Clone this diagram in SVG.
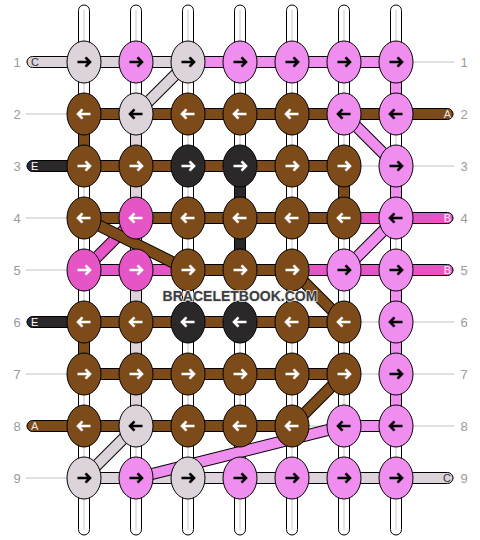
<svg xmlns="http://www.w3.org/2000/svg" xmlns:xlink="http://www.w3.org/1999/xlink" width="480" height="540" viewBox="0 0 480 540">
<style>
.num{font-family:"Liberation Sans",Arial,sans-serif;font-size:13px;fill:#9a9a9a;text-anchor:middle}
.lt{font-family:"Liberation Sans",Arial,sans-serif;font-size:11px}
.guide{stroke:#c4c4c4;stroke-width:1.2}
.warp{fill:#fff;stroke:#000;stroke-width:1}
.wl{stroke:#c8c8c8;stroke-width:1}
.seg{stroke:#000;stroke-width:1}
.L{fill:#ddd3da}.P{fill:#f08ef0}.B{fill:#7d4a19}.D{fill:#2b282a}.H{fill:#e655c6}
.dob{stroke:#000;stroke-width:12;stroke-linecap:butt}
.dL{stroke:#ddd3da;stroke-width:10}.dP{stroke:#f08ef0;stroke-width:10}.dB{stroke:#7d4a19;stroke-width:10}.dH{stroke:#e655c6;stroke-width:10}
.node ellipse{stroke:#000;stroke-width:1}
.aw{stroke:#fff}.ab{stroke:#000}
.wm{font-family:"Liberation Sans",Arial,sans-serif;font-size:14px;font-weight:bold;fill:#3c3c3c;stroke:#e8e8e8;stroke-width:1.5;paint-order:stroke;text-anchor:middle}
</style>
<defs>
<path id="ar" d="M-6.5,0 H6 M1.5,-4.6 L6,0 L1.5,4.6" fill="none" stroke-width="2.6"/>
<path id="al" d="M6.5,0 H-6 M-1.5,-4.6 L-6,0 L-1.5,4.6" fill="none" stroke-width="2.6"/>
</defs>

<g id="labels">
<g class="guide">
<line x1="26" y1="62" x2="454" y2="62"/><line x1="26" y1="114" x2="454" y2="114"/><line x1="26" y1="166" x2="454" y2="166"/>
<line x1="26" y1="218" x2="454" y2="218"/><line x1="26" y1="270" x2="454" y2="270"/><line x1="26" y1="322" x2="454" y2="322"/>
<line x1="26" y1="374" x2="454" y2="374"/><line x1="26" y1="426" x2="454" y2="426"/><line x1="26" y1="478" x2="454" y2="478"/>
</g>
<text class="num" x="17" y="67">1</text><text class="num" x="17" y="119">2</text><text class="num" x="17" y="171">3</text>
<text class="num" x="17" y="223">4</text><text class="num" x="17" y="275">5</text><text class="num" x="17" y="327">6</text>
<text class="num" x="17" y="379">7</text><text class="num" x="17" y="431">8</text><text class="num" x="17" y="483">9</text>
<text class="num" x="464" y="67">1</text><text class="num" x="464" y="119">2</text><text class="num" x="464" y="171">3</text>
<text class="num" x="464" y="223">4</text><text class="num" x="464" y="275">5</text><text class="num" x="464" y="327">6</text>
<text class="num" x="464" y="379">7</text><text class="num" x="464" y="431">8</text><text class="num" x="464" y="483">9</text>
</g>

<g id="connectors">
<!-- warp strands -->
<g>
<rect class="warp" x="78.5" y="5" width="11" height="530" rx="5.5"/><line class="wl" x1="84" y1="10" x2="84" y2="530"/>
<rect class="warp" x="130.5" y="5" width="11" height="530" rx="5.5"/><line class="wl" x1="136" y1="10" x2="136" y2="530"/>
<rect class="warp" x="182.5" y="5" width="11" height="530" rx="5.5"/><line class="wl" x1="188" y1="10" x2="188" y2="530"/>
<rect class="warp" x="234.5" y="5" width="11" height="530" rx="5.5"/><line class="wl" x1="240" y1="10" x2="240" y2="530"/>
<rect class="warp" x="286.5" y="5" width="11" height="530" rx="5.5"/><line class="wl" x1="292" y1="10" x2="292" y2="530"/>
<rect class="warp" x="338.5" y="5" width="11" height="530" rx="5.5"/><line class="wl" x1="344" y1="10" x2="344" y2="530"/>
<rect class="warp" x="390.5" y="5" width="11" height="530" rx="5.5"/><line class="wl" x1="396" y1="10" x2="396" y2="530"/>
</g>
<!-- coloured vertical gaps -->
<g class="seg">
<rect class="P" x="390.5" y="75" width="11" height="26"/>
<rect class="B" x="78.5" y="127" width="11" height="26"/>
<rect class="L" x="130.5" y="127" width="11" height="26"/>
<rect class="L" x="130.5" y="179" width="11" height="26"/>
<rect class="D" x="234.5" y="179" width="11" height="26"/>
<rect class="B" x="338.5" y="179" width="11" height="26"/>
<rect class="P" x="390.5" y="179" width="11" height="26"/>
<rect class="D" x="234.5" y="231" width="11" height="26"/>
<rect class="L" x="130.5" y="283" width="11" height="26"/>
<rect class="P" x="390.5" y="283" width="11" height="26"/>
<rect class="B" x="78.5" y="335" width="11" height="26"/>
<rect class="L" x="130.5" y="335" width="11" height="26"/>
<rect class="P" x="390.5" y="335" width="11" height="26"/>
<rect class="L" x="130.5" y="387" width="11" height="26"/>
<rect class="P" x="390.5" y="387" width="11" height="26"/>
</g>
<!-- horizontal segments -->
<g class="seg">
<rect class="L" x="27" y="56.5" width="55" height="11" rx="5.5"/>
<rect class="L" x="96" y="56.5" width="28" height="11"/><rect class="L" x="148" y="56.5" width="28" height="11"/>
<rect class="P" x="200" y="56.5" width="28" height="11"/><rect class="P" x="252" y="56.5" width="28" height="11"/>
<rect class="P" x="304" y="56.5" width="28" height="11"/><rect class="P" x="356" y="56.5" width="28" height="11"/>

<rect class="B" x="96" y="108.5" width="28" height="11"/><rect class="B" x="148" y="108.5" width="28" height="11"/>
<rect class="B" x="200" y="108.5" width="28" height="11"/><rect class="B" x="252" y="108.5" width="28" height="11"/>
<rect class="B" x="304" y="108.5" width="28" height="11"/><rect class="B" x="356" y="108.5" width="28" height="11"/>
<rect class="B" x="398" y="108.5" width="55" height="11" rx="5.5"/>

<rect class="D" x="27" y="160.5" width="55" height="11" rx="5.5"/>
<rect class="B" x="96" y="160.5" width="28" height="11"/><rect class="B" x="148" y="160.5" width="28" height="11"/>
<rect class="B" x="200" y="160.5" width="28" height="11"/><rect class="B" x="252" y="160.5" width="28" height="11"/>
<rect class="B" x="304" y="160.5" width="28" height="11"/>

<rect class="B" x="96" y="212.5" width="28" height="11"/><rect class="B" x="148" y="212.5" width="28" height="11"/>
<rect class="B" x="200" y="212.5" width="28" height="11"/><rect class="B" x="252" y="212.5" width="28" height="11"/>
<rect class="B" x="304" y="212.5" width="28" height="11"/><rect class="H" x="356" y="212.5" width="28" height="11"/>
<rect class="H" x="398" y="212.5" width="55" height="11" rx="5.5"/>

<rect class="H" x="96" y="264.5" width="28" height="11"/><rect class="H" x="148" y="264.5" width="28" height="11"/>
<rect class="B" x="200" y="264.5" width="28" height="11"/><rect class="B" x="252" y="264.5" width="28" height="11"/>
<rect class="H" x="304" y="264.5" width="28" height="11"/><rect class="H" x="356" y="264.5" width="28" height="11"/>
<rect class="H" x="398" y="264.5" width="55" height="11" rx="5.5"/>

<rect class="D" x="27" y="316.5" width="55" height="11" rx="5.5"/>
<rect class="B" x="96" y="316.5" width="28" height="11"/><rect class="B" x="148" y="316.5" width="28" height="11"/>
<rect class="B" x="200" y="316.5" width="28" height="11"/><rect class="B" x="252" y="316.5" width="28" height="11"/>
<rect class="B" x="304" y="316.5" width="28" height="11"/>

<rect class="B" x="96" y="368.5" width="28" height="11"/><rect class="B" x="148" y="368.5" width="28" height="11"/>
<rect class="B" x="200" y="368.5" width="28" height="11"/><rect class="B" x="252" y="368.5" width="28" height="11"/>
<rect class="B" x="304" y="368.5" width="28" height="11"/>

<rect class="B" x="27" y="420.5" width="55" height="11" rx="5.5"/>
<rect class="B" x="96" y="420.5" width="28" height="11"/><rect class="B" x="148" y="420.5" width="28" height="11"/>
<rect class="B" x="200" y="420.5" width="28" height="11"/><rect class="B" x="252" y="420.5" width="28" height="11"/>
<rect class="P" x="356" y="420.5" width="28" height="11"/>

<rect class="L" x="96" y="472.5" width="28" height="11"/><rect class="L" x="148" y="472.5" width="28" height="11"/>
<rect class="L" x="200" y="472.5" width="28" height="11"/><rect class="L" x="252" y="472.5" width="28" height="11"/>
<rect class="L" x="304" y="472.5" width="28" height="11"/><rect class="L" x="356" y="472.5" width="28" height="11"/>
<rect class="L" x="398" y="472.5" width="55" height="11" rx="5.5"/>
</g>
<!-- diagonals -->
<g>
<line class="dob" x1="188" y1="62" x2="136" y2="114"/><line class="dL" x1="188" y1="62" x2="136" y2="114"/>
<line class="dob" x1="344" y1="114" x2="396" y2="166"/><line class="dP" x1="344" y1="114" x2="396" y2="166"/>
<line class="dob" x1="136" y1="218" x2="84" y2="270"/><line class="dH" x1="136" y1="218" x2="84" y2="270"/>
<line class="dob" x1="84" y1="218" x2="188" y2="270"/><line class="dB" x1="84" y1="218" x2="188" y2="270"/>
<line class="dob" x1="396" y1="218" x2="344" y2="270"/><line class="dP" x1="396" y1="218" x2="344" y2="270"/>
<line class="dob" x1="292" y1="270" x2="344" y2="322"/><line class="dB" x1="292" y1="270" x2="344" y2="322"/>
<line class="dob" x1="344" y1="374" x2="292" y2="426"/><line class="dB" x1="344" y1="374" x2="292" y2="426"/>
<line class="dob" x1="344" y1="426" x2="136" y2="478"/><line class="dP" x1="344" y1="426" x2="136" y2="478"/>
<line class="dob" x1="136" y1="426" x2="84" y2="478"/><line class="dL" x1="136" y1="426" x2="84" y2="478"/>
</g>
<!-- strand end letters -->
<text class="lt" x="31" y="66" fill="#333">C</text>
<text class="lt" x="31" y="170" fill="#fff">E</text>
<text class="lt" x="31" y="326" fill="#fff">E</text>
<text class="lt" x="31" y="430" fill="#f0e6e0">A</text>
<text class="lt" x="451" y="118" fill="#f3e3ee" text-anchor="end">A</text>
<text class="lt" x="451" y="222" fill="#fff" text-anchor="end">B</text>
<text class="lt" x="451" y="274" fill="#fff" text-anchor="end">B</text>
<text class="lt" x="451" y="482" fill="#333" text-anchor="end">C</text>
</g>

<g id="n1-1" class="node"><ellipse class="L" cx="84" cy="62" rx="17" ry="21"/><use href="#ar" x="84" y="62" class="ab"/></g>
<g id="n1-2" class="node"><ellipse class="P" cx="136" cy="62" rx="17" ry="21"/><use href="#ar" x="136" y="62" class="ab"/></g>
<g id="n1-3" class="node"><ellipse class="L" cx="188" cy="62" rx="17" ry="21"/><use href="#ar" x="188" y="62" class="ab"/></g>
<g id="n1-4" class="node"><ellipse class="P" cx="240" cy="62" rx="17" ry="21"/><use href="#ar" x="240" y="62" class="ab"/></g>
<g id="n1-5" class="node"><ellipse class="P" cx="292" cy="62" rx="17" ry="21"/><use href="#ar" x="292" y="62" class="ab"/></g>
<g id="n1-6" class="node"><ellipse class="P" cx="344" cy="62" rx="17" ry="21"/><use href="#ar" x="344" y="62" class="ab"/></g>
<g id="n1-7" class="node"><ellipse class="P" cx="396" cy="62" rx="17" ry="21"/><use href="#ar" x="396" y="62" class="ab"/></g>

<g id="n2-1" class="node"><ellipse class="B" cx="84" cy="114" rx="17" ry="21"/><use href="#al" x="84" y="114" class="aw"/></g>
<g id="n2-2" class="node"><ellipse class="L" cx="136" cy="114" rx="17" ry="21"/><use href="#al" x="136" y="114" class="ab"/></g>
<g id="n2-3" class="node"><ellipse class="B" cx="188" cy="114" rx="17" ry="21"/><use href="#al" x="188" y="114" class="aw"/></g>
<g id="n2-4" class="node"><ellipse class="B" cx="240" cy="114" rx="17" ry="21"/><use href="#al" x="240" y="114" class="aw"/></g>
<g id="n2-5" class="node"><ellipse class="B" cx="292" cy="114" rx="17" ry="21"/><use href="#al" x="292" y="114" class="aw"/></g>
<g id="n2-6" class="node"><ellipse class="P" cx="344" cy="114" rx="17" ry="21"/><use href="#al" x="344" y="114" class="ab"/></g>
<g id="n2-7" class="node"><ellipse class="P" cx="396" cy="114" rx="17" ry="21"/><use href="#al" x="396" y="114" class="ab"/></g>

<g id="n3-1" class="node"><ellipse class="B" cx="84" cy="166" rx="17" ry="21"/><use href="#ar" x="84" y="166" class="aw"/></g>
<g id="n3-2" class="node"><ellipse class="B" cx="136" cy="166" rx="17" ry="21"/><use href="#ar" x="136" y="166" class="aw"/></g>
<g id="n3-3" class="node"><ellipse class="D" cx="188" cy="166" rx="17" ry="21"/><use href="#ar" x="188" y="166" class="aw"/></g>
<g id="n3-4" class="node"><ellipse class="D" cx="240" cy="166" rx="17" ry="21"/><use href="#ar" x="240" y="166" class="aw"/></g>
<g id="n3-5" class="node"><ellipse class="B" cx="292" cy="166" rx="17" ry="21"/><use href="#ar" x="292" y="166" class="aw"/></g>
<g id="n3-6" class="node"><ellipse class="B" cx="344" cy="166" rx="17" ry="21"/><use href="#ar" x="344" y="166" class="aw"/></g>
<g id="n3-7" class="node"><ellipse class="P" cx="396" cy="166" rx="17" ry="21"/><use href="#ar" x="396" y="166" class="ab"/></g>

<g id="n4-1" class="node"><ellipse class="B" cx="84" cy="218" rx="17" ry="21"/><use href="#al" x="84" y="218" class="aw"/></g>
<g id="n4-2" class="node"><ellipse class="H" cx="136" cy="218" rx="17" ry="21"/><use href="#al" x="136" y="218" class="aw"/></g>
<g id="n4-3" class="node"><ellipse class="B" cx="188" cy="218" rx="17" ry="21"/><use href="#al" x="188" y="218" class="aw"/></g>
<g id="n4-4" class="node"><ellipse class="B" cx="240" cy="218" rx="17" ry="21"/><use href="#al" x="240" y="218" class="aw"/></g>
<g id="n4-5" class="node"><ellipse class="B" cx="292" cy="218" rx="17" ry="21"/><use href="#al" x="292" y="218" class="aw"/></g>
<g id="n4-6" class="node"><ellipse class="B" cx="344" cy="218" rx="17" ry="21"/><use href="#al" x="344" y="218" class="aw"/></g>
<g id="n4-7" class="node"><ellipse class="P" cx="396" cy="218" rx="17" ry="21"/><use href="#al" x="396" y="218" class="ab"/></g>

<g id="n5-1" class="node"><ellipse class="H" cx="84" cy="270" rx="17" ry="21"/><use href="#ar" x="84" y="270" class="aw"/></g>
<g id="n5-2" class="node"><ellipse class="H" cx="136" cy="270" rx="17" ry="21"/><use href="#ar" x="136" y="270" class="aw"/></g>
<g id="n5-3" class="node"><ellipse class="B" cx="188" cy="270" rx="17" ry="21"/><use href="#ar" x="188" y="270" class="aw"/></g>
<g id="n5-4" class="node"><ellipse class="B" cx="240" cy="270" rx="17" ry="21"/><use href="#ar" x="240" y="270" class="aw"/></g>
<g id="n5-5" class="node"><ellipse class="B" cx="292" cy="270" rx="17" ry="21"/><use href="#ar" x="292" y="270" class="aw"/></g>
<g id="n5-6" class="node"><ellipse class="P" cx="344" cy="270" rx="17" ry="21"/><use href="#ar" x="344" y="270" class="ab"/></g>
<g id="n5-7" class="node"><ellipse class="P" cx="396" cy="270" rx="17" ry="21"/><use href="#ar" x="396" y="270" class="ab"/></g>

<g id="n6-1" class="node"><ellipse class="B" cx="84" cy="322" rx="17" ry="21"/><use href="#al" x="84" y="322" class="aw"/></g>
<g id="n6-2" class="node"><ellipse class="B" cx="136" cy="322" rx="17" ry="21"/><use href="#al" x="136" y="322" class="aw"/></g>
<g id="n6-3" class="node"><ellipse class="D" cx="188" cy="322" rx="17" ry="21"/><use href="#al" x="188" y="322" class="aw"/></g>
<g id="n6-4" class="node"><ellipse class="D" cx="240" cy="322" rx="17" ry="21"/><use href="#al" x="240" y="322" class="aw"/></g>
<g id="n6-5" class="node"><ellipse class="B" cx="292" cy="322" rx="17" ry="21"/><use href="#al" x="292" y="322" class="aw"/></g>
<g id="n6-6" class="node"><ellipse class="B" cx="344" cy="322" rx="17" ry="21"/><use href="#al" x="344" y="322" class="aw"/></g>
<g id="n6-7" class="node"><ellipse class="P" cx="396" cy="322" rx="17" ry="21"/><use href="#al" x="396" y="322" class="ab"/></g>

<g id="n7-1" class="node"><ellipse class="B" cx="84" cy="374" rx="17" ry="21"/><use href="#ar" x="84" y="374" class="aw"/></g>
<g id="n7-2" class="node"><ellipse class="B" cx="136" cy="374" rx="17" ry="21"/><use href="#ar" x="136" y="374" class="aw"/></g>
<g id="n7-3" class="node"><ellipse class="B" cx="188" cy="374" rx="17" ry="21"/><use href="#ar" x="188" y="374" class="aw"/></g>
<g id="n7-4" class="node"><ellipse class="B" cx="240" cy="374" rx="17" ry="21"/><use href="#ar" x="240" y="374" class="aw"/></g>
<g id="n7-5" class="node"><ellipse class="B" cx="292" cy="374" rx="17" ry="21"/><use href="#ar" x="292" y="374" class="aw"/></g>
<g id="n7-6" class="node"><ellipse class="B" cx="344" cy="374" rx="17" ry="21"/><use href="#ar" x="344" y="374" class="aw"/></g>
<g id="n7-7" class="node"><ellipse class="P" cx="396" cy="374" rx="17" ry="21"/><use href="#ar" x="396" y="374" class="ab"/></g>

<g id="n8-1" class="node"><ellipse class="B" cx="84" cy="426" rx="17" ry="21"/><use href="#al" x="84" y="426" class="aw"/></g>
<g id="n8-2" class="node"><ellipse class="L" cx="136" cy="426" rx="17" ry="21"/><use href="#al" x="136" y="426" class="ab"/></g>
<g id="n8-3" class="node"><ellipse class="B" cx="188" cy="426" rx="17" ry="21"/><use href="#al" x="188" y="426" class="aw"/></g>
<g id="n8-4" class="node"><ellipse class="B" cx="240" cy="426" rx="17" ry="21"/><use href="#al" x="240" y="426" class="aw"/></g>
<g id="n8-5" class="node"><ellipse class="B" cx="292" cy="426" rx="17" ry="21"/><use href="#al" x="292" y="426" class="aw"/></g>
<g id="n8-6" class="node"><ellipse class="P" cx="344" cy="426" rx="17" ry="21"/><use href="#al" x="344" y="426" class="ab"/></g>
<g id="n8-7" class="node"><ellipse class="P" cx="396" cy="426" rx="17" ry="21"/><use href="#al" x="396" y="426" class="ab"/></g>

<g id="n9-1" class="node"><ellipse class="L" cx="84" cy="478" rx="17" ry="21"/><use href="#ar" x="84" y="478" class="ab"/></g>
<g id="n9-2" class="node"><ellipse class="P" cx="136" cy="478" rx="17" ry="21"/><use href="#ar" x="136" y="478" class="ab"/></g>
<g id="n9-3" class="node"><ellipse class="L" cx="188" cy="478" rx="17" ry="21"/><use href="#ar" x="188" y="478" class="ab"/></g>
<g id="n9-4" class="node"><ellipse class="P" cx="240" cy="478" rx="17" ry="21"/><use href="#ar" x="240" y="478" class="ab"/></g>
<g id="n9-5" class="node"><ellipse class="P" cx="292" cy="478" rx="17" ry="21"/><use href="#ar" x="292" y="478" class="ab"/></g>
<g id="n9-6" class="node"><ellipse class="P" cx="344" cy="478" rx="17" ry="21"/><use href="#ar" x="344" y="478" class="ab"/></g>
<g id="n9-7" class="node"><ellipse class="P" cx="396" cy="478" rx="17" ry="21"/><use href="#ar" x="396" y="478" class="ab"/></g>

<text class="wm" x="240" y="301">BRACELETBOOK.COM</text>
</svg>
